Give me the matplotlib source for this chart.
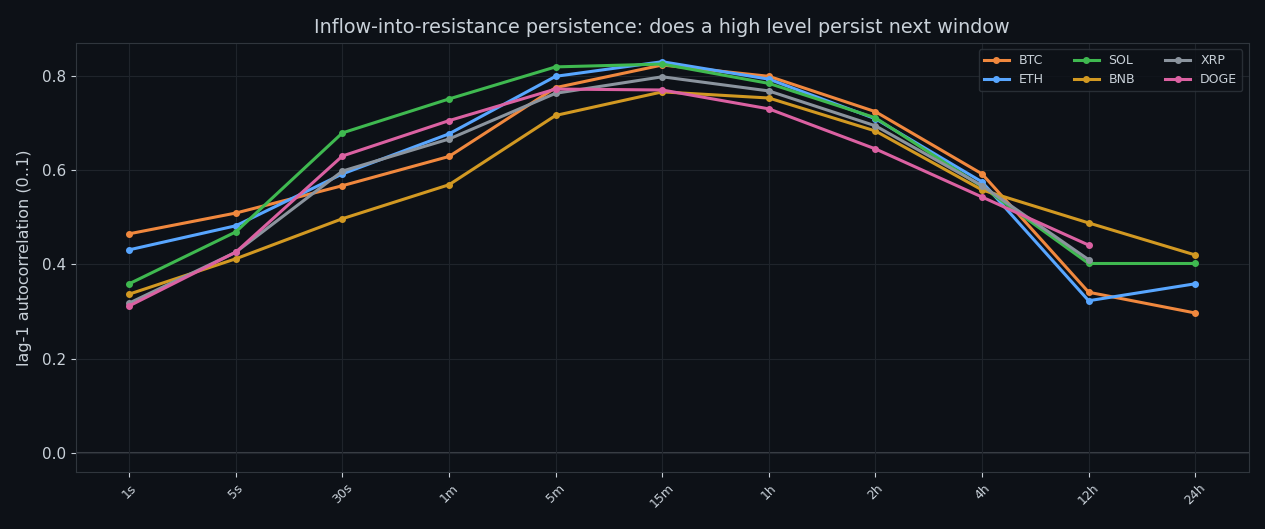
import numpy as np
import matplotlib
matplotlib.use("Agg")
import matplotlib.pyplot as plt

windows = ["1s", "5s", "30s", "1m", "5m", "15m", "1h", "2h", "4h", "12h", "24h"]

btc = [0.465, 0.509, 0.567, 0.629, 0.775, 0.823, 0.799, 0.724, 0.592, 0.341, 0.297]
eth = [0.431, 0.482, 0.592, 0.677, 0.799, 0.830, 0.793, 0.709, 0.575, 0.323, 0.359]
sol = [0.359, 0.469, 0.679, 0.751, 0.819, 0.825, 0.784, 0.711, 0.565, 0.402, 0.402]
bnb = [0.337, 0.412, 0.497, 0.569, 0.716, 0.766, 0.753, 0.683, 0.558, 0.488, 0.420]
xrp = [0.318, 0.426, 0.598, 0.666, 0.763, 0.798, 0.768, 0.694, 0.567, 0.410, np.nan]
doge = [0.312, 0.426, 0.630, 0.705, 0.772, 0.770, 0.730, 0.645, 0.543, 0.441, np.nan]

series = [("BTC", btc, "#f0883e"), ("ETH", eth, "#58a6ff"), ("SOL", sol, "#3fb950"),
          ("BNB", bnb, "#d29922"), ("XRP", xrp, "#8b949e"), ("DOGE", doge, "#db61a2")]

bg = "#0d1117"
fig = plt.figure(figsize=(12.65, 5.29), dpi=100, facecolor=bg)
ax = fig.add_axes([0.060, 0.108, 0.927, 0.811], facecolor=bg)

x = np.arange(len(windows))
for name, vals, col in series:
    ax.plot(x, vals, color=col, linewidth=2.2, marker="o", markersize=4, label=name)

ax.axhline(0, color="#3a3f46", linewidth=1.5, zorder=0)
ax.set_xlim(-0.5, len(windows) - 0.5)
ax.set_ylim(-0.04, 0.87)
ax.set_yticks([0.0, 0.2, 0.4, 0.6, 0.8])
ax.set_xticks(x)
ax.set_xticklabels(windows, rotation=45, fontsize=9)
ax.grid(True, color="#1f242b", linewidth=0.8)
ax.set_axisbelow(True)

for sp in ax.spines.values():
    sp.set_color("#30363d")
ax.tick_params(colors="#c9d1d9", labelsize=11)
ax.tick_params(axis="x", labelsize=9)

ax.set_title("Inflow-into-resistance persistence: does a high level persist next window",
             color="#c9d1d9", fontsize=13.8, pad=7)
ax.set_ylabel("lag-1 autocorrelation (0..1)", color="#c9d1d9", fontsize=11.5, labelpad=7)

leg = ax.legend(ncol=3, loc="upper right", fontsize=9, facecolor=bg, edgecolor="#30363d",
                labelcolor="#c9d1d9", columnspacing=2.4, borderaxespad=0.5)

fig.savefig("out.png", dpi=100, facecolor=bg)
